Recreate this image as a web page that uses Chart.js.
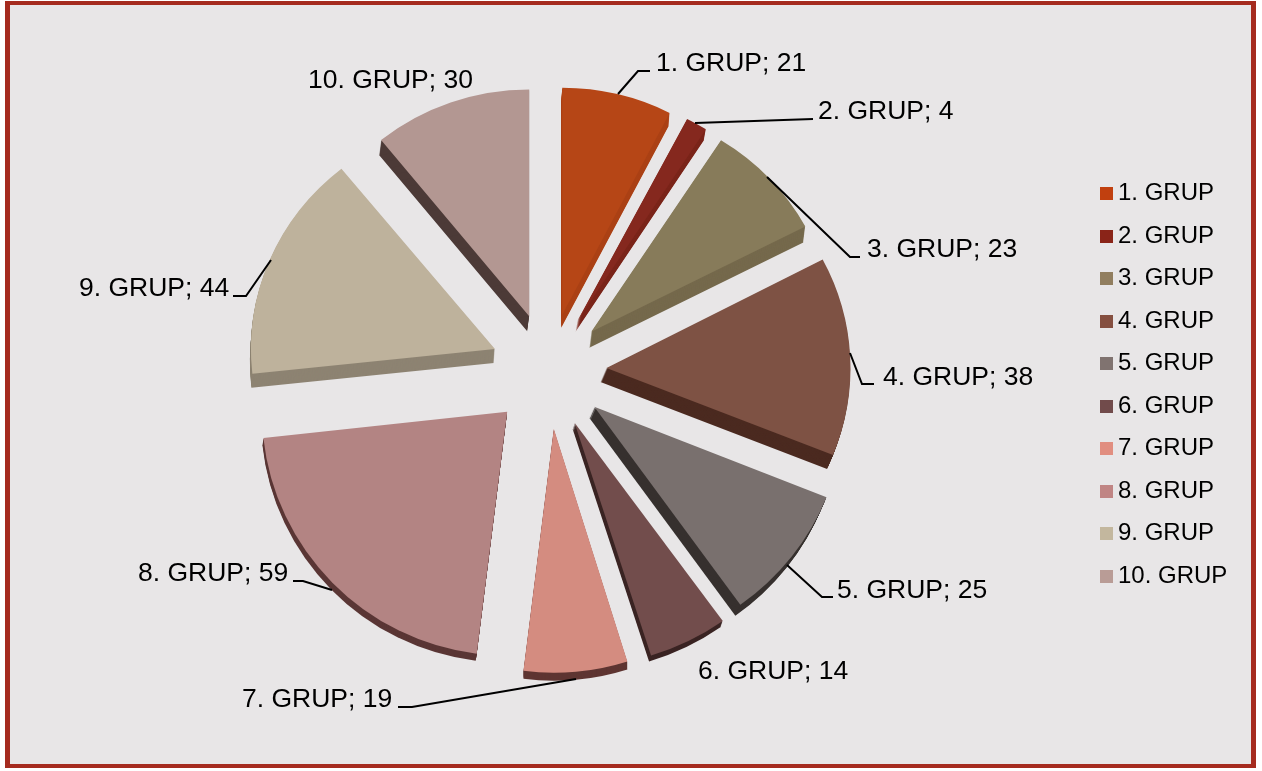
<!DOCTYPE html>
<html>
<head>
<meta charset="utf-8">
<style>
html,body{margin:0;padding:0;background:#fff;width:1262px;height:771px;overflow:hidden}
#frame{position:absolute;left:5px;top:1px;width:1241px;height:759px;background:#E8E6E7;border:solid #A52B1F;border-width:4px 5px 4px 5px}
canvas{position:absolute;left:0;top:0}
</style>
<script src="https://cdn.jsdelivr.net/npm/chart.js@4/dist/chart.umd.js"></script>
</head>
<body>
<div id="frame"></div>
<canvas id="c" width="1262" height="771"></canvas>
<script>
const categories = ['1. GRUP','2. GRUP','3. GRUP','4. GRUP','5. GRUP','6. GRUP','7. GRUP','8. GRUP','9. GRUP','10. GRUP'];
const values = [21,4,23,38,25,14,19,59,44,30];
const legendColors = ['#C1400F','#8A2418','#917E5F','#854F40','#807370','#714B4B','#E18E80','#C08584','#C3B79E','#B99C96'];
const faceColors = ['#B64616','#85281E','#877B5A','#7E5244','#79706E','#724D4C','#D48C80','#B38483','#BEB29C','#B39792'];
const sideColors = ['#AB4115','#7A2419','#75694C','#4B2A20','#36302E','#3A2423','#5E3532','#5A3635','#8D8372','#4C3A37'];
const sideDepth = [[-1,13],[-2,11],[-2,16],[-6,14],[-5,11],[-2,6],[0,8],[-1,7],[-1,14],[-2,15]];
const tiltY = [0.93,0.93,0.93,0.96,1,1,1,1,0.95,0.93];
const tiltX = [0.96,0.98,0.99,1.0,1.025,1.04,1,1.005,1.0,0.965];
const explode = 58;
const labelPos = [[656,64],[818,112],[867,250],[883,378],[837,591],[698,672],[242,700],[138,574],[79,289],[308,81]];
const leaders = [
  [[618,94],[638,71],[650,71]],
  [[695,123],[813,119]],
  [[767,177],[850,257],[860,257]],
  [[850,353],[862,384],[874,384]],
  [[787,565],[822,597],[833,597]],
  [],
  [[576,679],[412,707],[398,707]],
  [[332,590],[303,581],[293,581]],
  [[271,260],[246,296],[233,296]],
  []
];
const FONT = '"Liberation Sans", Arial, sans-serif';

function swatch(color){
  const s = document.createElement('canvas');
  s.width = 13; s.height = 13;
  const g = s.getContext('2d');
  g.fillStyle = color; g.fillRect(0,0,13,13);
  return s;
}
const swatches = legendColors.map(swatch);

const slices3d = {
  id:'slices3d',
  afterLayout(chart){
    const l = chart.legend;
    const h = l.bottom - l.top;
    l.left = 1106.5 - 19.5 + 0.5;
    l.top = 385 - h/2;
    l.bottom = l.top + h;
  },
  beforeDatasetDraw(chart,args){
    const ctx = chart.ctx;
    const arcs = chart.getDatasetMeta(args.index).data;
    arcs.forEach((el,i)=>{
      const mid = (el.startAngle+el.endAngle)/2;
      const tipX = el.x + Math.cos(mid)*explode;
      const tipY = el.y + Math.sin(mid)*explode;
      const apply = (dx,dy)=>{
        ctx.translate(tipX+dx,tipY+dy);
        ctx.scale(tiltX[i],tiltY[i]);
        ctx.translate(-el.x,-el.y);
      };
      const fake = Object.create(el);
      fake.options = Object.assign({},el.options,{backgroundColor:sideColors[i],borderWidth:0});
      const [dx,dy] = sideDepth[i];
      const steps = Math.max(Math.abs(dx),Math.abs(dy));
      for(let k=steps;k>=1;k--){
        ctx.save();
        apply(dx*k/steps,dy*k/steps);
        el.draw.call(fake,ctx);
        ctx.restore();
      }
      ctx.save();
      apply(0,0);
      el.draw(ctx);
      ctx.restore();
    });
    return false;
  },
  afterDatasetsDraw(chart){
    const ctx = chart.ctx;
    ctx.save();
    ctx.strokeStyle = '#000';
    ctx.lineWidth = 2;
    leaders.forEach(pts=>{
      if(!pts.length) return;
      ctx.beginPath();
      pts.forEach((p,i)=> i?ctx.lineTo(p[0],p[1]):ctx.moveTo(p[0],p[1]));
      ctx.stroke();
    });
    ctx.fillStyle = '#000';
    ctx.font = '26.5px '+FONT;
    ctx.textBaseline = 'middle';
    ctx.textAlign = 'left';
    categories.forEach((c,i)=>{
      ctx.fillText(c+'; '+values[i],labelPos[i][0],labelPos[i][1]);
    });
    ctx.restore();
  }
};

new Chart(document.getElementById('c'),{
  type:'pie',
  data:{
    labels:categories,
    datasets:[{
      data:values,
      backgroundColor:faceColors,
      borderWidth:0
    }]
  },
  options:{
    responsive:false,
    animation:false,
    events:[],
    radius:244,
    layout:{padding:{left:17,right:32,top:0,bottom:29}},
    plugins:{
      tooltip:{enabled:false},
      title:{display:false},
      legend:{
        display:true,
        position:'right',
        labels:{
          usePointStyle:true,
          boxWidth:0.01,
          padding:18.5,
          color:'#000',
          font:{family:FONT,size:24,lineHeight:1},
          generateLabels(chart){
            return categories.map((t,i)=>({
              text:t,
              fillStyle:legendColors[i],
              strokeStyle:legendColors[i],
              lineWidth:0,
              pointStyle:swatches[i],
              hidden:false,
              index:i
            }));
          }
        }
      }
    }
  },
  plugins:[slices3d]
});
</script>
</body>
</html>
